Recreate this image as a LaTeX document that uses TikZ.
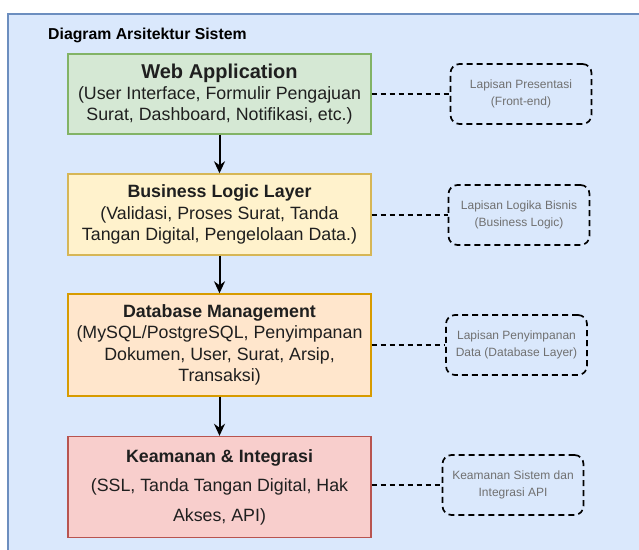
\documentclass[tikz,border=0pt]{standalone}
\usepackage{fontspec}
\setmainfont{Liberation Sans}
\usetikzlibrary{arrows.meta}
\definecolor{bgfill}{HTML}{DAE8FC}
\definecolor{bgline}{HTML}{6C8EBF}
\definecolor{webfill}{HTML}{D5E8D4}
\definecolor{webline}{HTML}{82B366}
\definecolor{logicfill}{HTML}{FFF2CC}
\definecolor{logicline}{HTML}{D6B656}
\definecolor{dbfill}{HTML}{FFE6CC}
\definecolor{dbline}{HTML}{D79B00}
\definecolor{secfill}{HTML}{F8CECC}
\definecolor{secline}{HTML}{B85450}
\definecolor{notegray}{HTML}{707070}
\begin{document}
\begin{tikzpicture}[x=1pt,y=-1pt,
  layer/.style={draw, line width=1.4pt, minimum width=303pt, align=center, text=black!88,
    font=\fontsize{17.8}{21.4}\selectfont, inner sep=0pt},
  note/.style={draw, rounded corners=9pt, dash pattern=on 6pt off 4pt, line width=1.7pt,
    minimum width=141pt, minimum height=60pt, align=center, text=notegray,
    font=\fontsize{12}{16.5}\selectfont, inner sep=0pt},
  flow/.style={draw, line width=2pt, -{Stealth[length=12pt,width=11pt]}},
  link/.style={draw, line width=1.8pt, dash pattern=on 5pt off 4pt}]
\useasboundingbox (0,0) rectangle (639,549);
\fill[white] (0,0) rectangle (639,549);
\path[fill=bgfill, draw=bgline, line width=1.5pt] (8,14) rectangle (660,570);

\node[anchor=base west, inner sep=0pt, font=\fontsize{15.8}{19}\selectfont\bfseries] (judul) at (48,39) {Diagram Arsitektur Sistem};

\node[layer, fill=webfill, draw=webline, minimum height=80pt] (web) at (219.5,94)
  {{\fontsize{20}{24}\selectfont\bfseries Web Application}\\(User Interface, Formulir Pengajuan\\Surat, Dashboard, Notifikasi, etc.)};
\node[layer, fill=logicfill, draw=logicline, minimum height=81pt] (logic) at (219.5,214.5)
  {{\bfseries Business Logic Layer}\\(Validasi, Proses Surat, Tanda\\Tangan Digital, Pengelolaan Data.)};
\node[layer, fill=dbfill, draw=dbline, minimum height=102pt] (db) at (219.5,345)
  {{\bfseries Database Management}\\(MySQL/PostgreSQL, Penyimpanan\\Dokumen, User, Surat, Arsip,\\Transaksi)};
\node[layer, fill=secfill, draw=secline, minimum height=101pt] (sec) at (219.5,487)
  {{\bfseries Keamanan \& Integrasi}\\[8pt](SSL, Tanda Tangan Digital, Hak\\[8pt]Akses, API)};

\node[note] (ket1) at (521,94) {Lapisan Presentasi\\(Front-end)};
\node[note] (ket2) at (519,215) {Lapisan Logika Bisnis\\(Business Logic)};
\node[note] (ket3) at (516.5,345) {Lapisan Penyimpanan\\Data (Database Layer)};
\node[note] (ket4) at (513,485) {Keamanan Sistem dan\\Integrasi API};

\path[flow] (web) -- (logic);
\path[flow] (logic) -- (db);
\path[flow] (db) -- (sec);

\path[link] (web.east |- ket1) -- (ket1);
\path[link] (logic.east |- ket2) -- (ket2);
\path[link] (db.east |- ket3) -- (ket3);
\path[link] (sec.east |- ket4) -- (ket4);
\end{tikzpicture}
\end{document}
